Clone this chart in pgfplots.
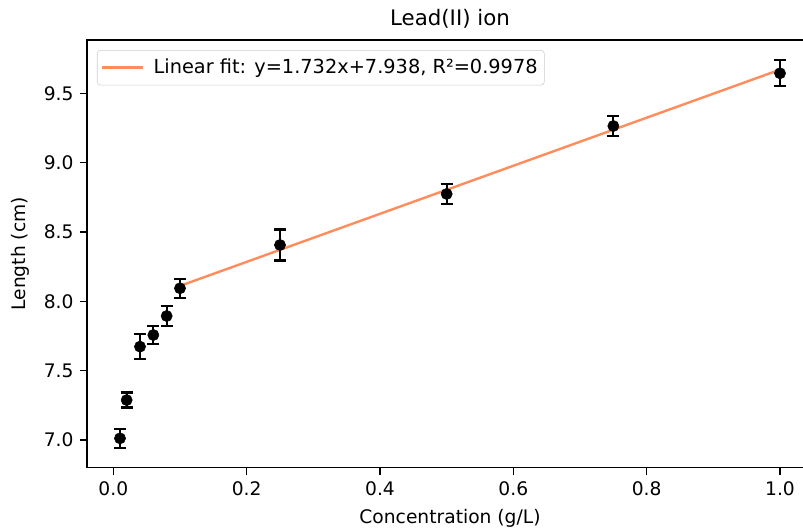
\documentclass[border=0pt]{standalone}
\usepackage{fontspec}
\setmainfont{DejaVu Sans}
\usepackage{pgfplots}
\pgfplotsset{compat=1.18}
\definecolor{fitc}{RGB}{255,140,92}
\begin{document}
\fontsize{14pt}{17pt}\selectfont
\begin{tikzpicture}
\path[use as bounding box] (-65.25pt,-46pt) rectangle (537pt,350.8pt);
\begin{axis}[
  at={(0,0)}, anchor=south west,
  scale only axis, width=544.5pt, height=320.8pt,
  xmin=-0.0395, xmax=1.0495, ymin=6.80, ymax=9.884,
  xtick={0,0.2,0.4,0.6,0.8,1.0},
  ytick={7.0,7.5,8.0,8.5,9.0,9.5},
  /pgf/number format/assume math mode=true,
  xticklabel style={/pgf/number format/fixed,/pgf/number format/fixed zerofill,/pgf/number format/precision=1},
  yticklabel style={/pgf/number format/fixed,/pgf/number format/fixed zerofill,/pgf/number format/precision=1},
  scaled ticks=false,
  tick align=outside, xtick pos=bottom, ytick pos=left,
  major tick length=5.25pt,
  tick style={black, line width=1pt},
  axis line style={line width=1pt},
  title={\fontsize{16pt}{19pt}\selectfont Lead(II) ion},
  title style={at={(axis description cs:0.5,1)}, anchor=base, yshift=5.25pt},
  xlabel={Concentration (g/L)}, ylabel={Length (cm)},
  xlabel style={at={(axis description cs:0.5,0)}, anchor=base, yshift=-41.5pt},
  ylabel style={at={(axis description cs:-0.0923,0.5)}, anchor=center},
  legend style={at={(0.01377,0.9766)}, anchor=north west, draw=black!20, rounded corners=2.5pt, font=\fontsize{14.5pt}{17pt}\selectfont, inner xsep=3pt, inner ysep=4.5pt},
  legend cell align=left,
  legend image code/.code={\draw[#1] (0pt,0pt) -- (30.75pt,0pt); \path (35.5pt,0pt);},
]
\addplot[fitc, line width=1.8pt] coordinates {(0.1,8.111) (1.0,9.670)};
\addlegendentry{Linear fit: y=1.732x+7.938, R²=0.9978}
\addplot[only marks, mark=*, mark size=4.2pt, black,
  error bars/.cd, y dir=both, y explicit,
  error bar style={black, line width=1.6pt},
  error mark options={rotate=90, mark size=4.5pt, black, line width=1.6pt}]
  coordinates {
  (0.01,7.012) +- (0,0.07)
  (0.02,7.288) +- (0,0.054)
  (0.04,7.673) +- (0,0.09)
  (0.06,7.757) +- (0,0.066)
  (0.08,7.894) +- (0,0.072)
  (0.10,8.094) +- (0,0.069)
  (0.25,8.406) +- (0,0.112)
  (0.50,8.774) +- (0,0.072)
  (0.75,9.264) +- (0,0.07)
  (1.00,9.644) +- (0,0.093)
  };
\end{axis}
\end{tikzpicture}
\end{document}
